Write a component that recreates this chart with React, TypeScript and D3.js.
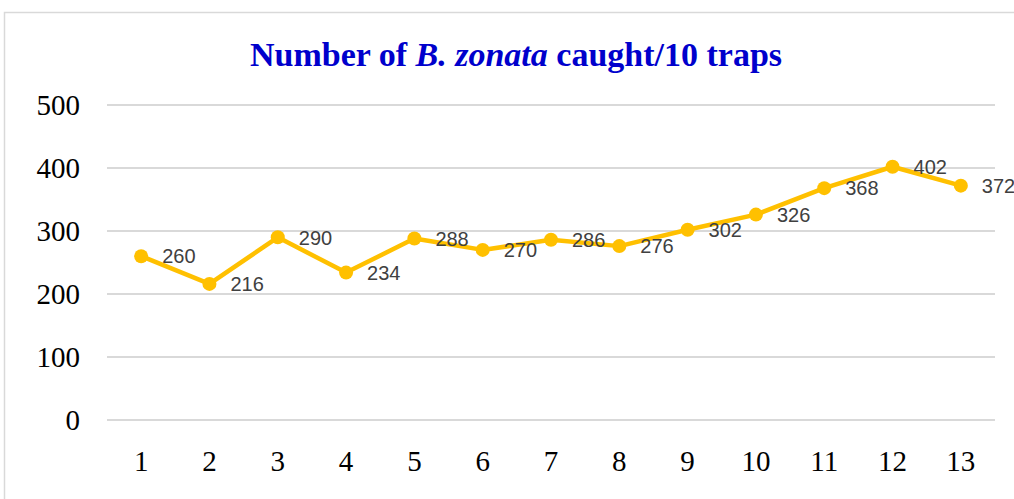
import React, { useEffect, useRef } from "react"
import * as d3 from "d3"

const WIDTH = 1014
const HEIGHT = 499

const weeks = ["1", "2", "3", "4", "5", "6", "7", "8", "9", "10", "11", "12", "13"]
const caught = [260, 216, 290, 234, 288, 270, 286, 276, 302, 326, 368, 402, 372]
const yTicks = [0, 100, 200, 300, 400, 500]

const LINE_COLOR = "#ffc000"

const App = () => {
	const svgRef = useRef<SVGSVGElement>(null)

	useEffect(() => {
		if (!svgRef.current) return
		const svg = d3.select(svgRef.current)
		svg.selectAll("*").remove()

		const margin = { top: 105, right: 19, bottom: 79, left: 107 }
		const width = WIDTH - margin.left - margin.right
		const height = HEIGHT - margin.top - margin.bottom

		svg.append("rect")
			.attr("width", WIDTH)
			.attr("height", HEIGHT)
			.attr("fill", "#fff")

		// chart area border
		svg.append("rect")
			.attr("x", 4.5)
			.attr("y", 12.5)
			.attr("width", 1040)
			.attr("height", 520)
			.attr("fill", "none")
			.attr("stroke", "#d9d9d9")
			.attr("stroke-width", 1.5)

		const title = svg.append("text")
			.attr("x", 516)
			.attr("y", 66)
			.attr("text-anchor", "middle")
			.style("font-family", "'Liberation Serif', 'Times New Roman', serif")
			.style("font-size", "34px")
			.style("font-weight", "bold")
			.style("fill", "#0000cc")
		title.append("tspan").text("Number of ")
		title.append("tspan").style("font-style", "italic").text("B. zonata")
		title.append("tspan").text(" caught/10 traps")

		const g = svg.append("g").attr("transform", `translate(${margin.left},${margin.top})`)

		const x = d3.scaleBand().domain(weeks).range([0, width])
		const y = d3.scaleLinear().domain([0, 500]).range([height, 0])

		// gridlines
		g.append("g")
			.selectAll("line")
			.data(yTicks)
			.join("line")
			.attr("x1", 0)
			.attr("x2", width)
			.attr("y1", (d) => y(d))
			.attr("y2", (d) => y(d))
			.attr("stroke", "#d9d9d9")
			.attr("stroke-width", 2)

		const yAxis = g.append("g")
			.call(d3.axisLeft(y).tickValues(yTicks).tickSize(0).tickPadding(27))
		yAxis.select(".domain").remove()
		yAxis.selectAll("text")
			.style("font-family", "'Liberation Serif', 'Times New Roman', serif")
			.style("font-size", "29px")
			.style("fill", "#000")

		const xAxis = g.append("g")
			.attr("transform", `translate(0,${height})`)
			.call(d3.axisBottom(x).tickSize(0).tickPadding(30))
		xAxis.select(".domain").remove()
		xAxis.selectAll("text")
			.style("font-family", "'Liberation Serif', 'Times New Roman', serif")
			.style("font-size", "29px")
			.style("fill", "#000")

		const cx = (i: number) => (x(weeks[i]) as number) + x.bandwidth() / 2

		const line = d3.line<number>()
			.x((d, i) => cx(i))
			.y((d) => y(d))

		g.append("path")
			.datum(caught)
			.attr("fill", "none")
			.attr("stroke", LINE_COLOR)
			.attr("stroke-width", 4.5)
			.attr("stroke-linejoin", "round")
			.attr("d", line)

		g.append("g")
			.selectAll("circle")
			.data(caught)
			.join("circle")
			.attr("cx", (d, i) => cx(i))
			.attr("cy", (d) => y(d))
			.attr("r", 7)
			.attr("fill", LINE_COLOR)

		g.append("g")
			.selectAll("text")
			.data(caught)
			.join("text")
			.attr("x", (d, i) => cx(i) + 21)
			.attr("y", (d) => y(d))
			.attr("dy", "0.36em")
			.style("font-family", "'Liberation Sans', Arial, sans-serif")
			.style("font-size", "20px")
			.style("fill", "#404040")
			.text((d) => d)
	}, [])

	return (
		<div style={{ position: "absolute", left: 0, top: 0, width: WIDTH, height: HEIGHT, overflow: "hidden" }}>
			<svg ref={svgRef} width={WIDTH} height={HEIGHT} style={{ display: "block" }}></svg>
		</div>
	)
}

export default App
